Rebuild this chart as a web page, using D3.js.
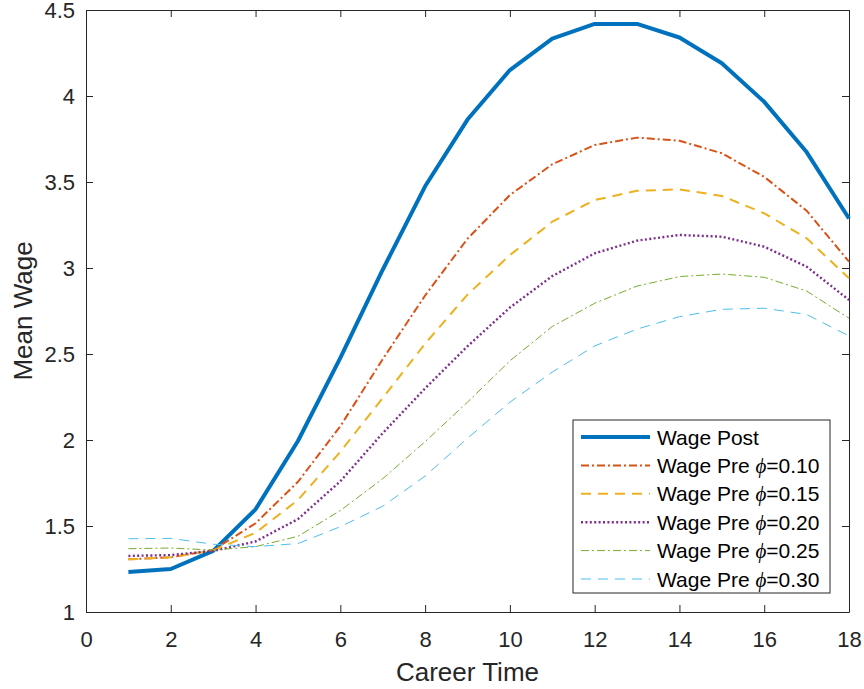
<!DOCTYPE html>
<html>
<head>
<meta charset="utf-8">
<title>Mean wage over career time</title>
<style>
body { margin: 0; background: #fff; }
svg { display: block; font-family: "Liberation Sans", Arial, sans-serif; }
.tick text { fill: #262626; font-size: 22px; }
</style>
<script src="https://d3js.org/d3.v7.min.js"></script>
</head>
<body>
<div id="chart"></div>
<script>
// career time steps
var careerTime = [1,2,3,4,5,6,7,8,9,10,11,12,13,14,15,16,17,18];

var wagePost  = [1.232,1.250,1.355,1.597,1.994,2.477,2.990,3.475,3.863,4.151,4.333,4.419,4.419,4.340,4.190,3.966,3.674,3.288];
var wagePre10 = [1.306,1.318,1.360,1.516,1.757,2.080,2.470,2.840,3.170,3.424,3.603,3.715,3.758,3.740,3.667,3.530,3.333,3.037];
var wagePre15 = [1.306,1.318,1.358,1.461,1.651,1.932,2.244,2.560,2.845,3.075,3.269,3.395,3.449,3.457,3.419,3.318,3.173,2.940];
var wagePre20 = [1.326,1.331,1.355,1.410,1.540,1.760,2.040,2.300,2.545,2.770,2.953,3.085,3.159,3.192,3.182,3.124,3.008,2.814];
var wagePre25 = [1.368,1.372,1.360,1.380,1.440,1.590,1.775,1.990,2.220,2.460,2.660,2.795,2.895,2.950,2.965,2.946,2.866,2.708];
var wagePre30 = [1.426,1.428,1.394,1.380,1.398,1.496,1.615,1.790,2.010,2.220,2.395,2.547,2.645,2.717,2.760,2.766,2.730,2.605];

var seriesNames = ["Wage Post", "Wage Pre ", "Wage Pre ", "Wage Pre ", "Wage Pre ", "Wage Pre "];
var phiValues = [null, "0.10", "0.15", "0.20", "0.25", "0.30"];

var xTicks = [0,2,4,6,8,10,12,14,16,18];
var yTicks = [1,1.5,2,2.5,3,3.5,4,4.5];

var allSeries = [wagePost, wagePre10, wagePre15, wagePre20, wagePre25, wagePre30];
var colors = ["#0072BD", "#D95319", "#EDB120", "#7E2F8E", "#77AC30", "#4DBEEE"];
var widths = [4, 2, 2, 2.4, 1, 1];
var dashes = [null, "8,3,2,3", "10,7", "2,2.4", "8,3,2,3", "10,7"];

var W = 864, H = 689;
var margin = {left: 86, right: 15, top: 10, bottom: 77};

var svg = d3.select("#chart").append("svg").attr("width", W).attr("height", H);

var x = d3.scaleLinear().domain([0, 18]).range([margin.left, W - margin.right]);
var y = d3.scaleLinear().domain([1, 4.5]).range([H - margin.bottom, margin.top]);

var tickLen = 7;

// axes, box on like matlab
var xAxis = svg.append("g").attr("transform", "translate(0," + y(1) + ")")
  .call(d3.axisBottom(x).tickValues(xTicks).tickSizeInner(-tickLen).tickSizeOuter(0).tickPadding(19).tickFormat(d3.format("d")));
svg.append("g").attr("transform", "translate(0," + y(4.5) + ")")
  .call(d3.axisTop(x).tickValues(xTicks).tickSizeInner(-tickLen).tickSizeOuter(0).tickFormat(""));
var yAxis = svg.append("g").attr("transform", "translate(" + x(0) + ",0)")
  .call(d3.axisLeft(y).tickValues(yTicks).tickSizeInner(-tickLen).tickSizeOuter(0).tickPadding(11).tickFormat(function(d){ return d3.format("")(d); }));
svg.append("g").attr("transform", "translate(" + x(18) + ",0)")
  .call(d3.axisRight(y).tickValues(yTicks).tickSizeInner(-tickLen).tickSizeOuter(0).tickFormat(""));

svg.selectAll(".domain").attr("stroke", "#262626");
svg.selectAll(".tick line").attr("stroke", "#262626");
xAxis.selectAll("text").attr("font-family", null);
yAxis.selectAll("text").attr("font-family", null).attr("dy", "0.36em");

// axis labels
svg.append("text").attr("x", (x(0) + x(18)) / 2).attr("y", 681)
  .attr("text-anchor", "middle").attr("font-size", 26).attr("fill", "#262626").text("Career Time");
svg.append("text").attr("transform", "translate(32," + (y(1) + y(4.5)) / 2 + ") rotate(-90)")
  .attr("text-anchor", "middle").attr("font-size", 26).attr("fill", "#262626").text("Mean Wage");

// lines
var line = d3.line().x(function(d, i){ return x(careerTime[i]); }).y(function(d){ return y(d); });

svg.append("g").selectAll("path").data(allSeries).enter().append("path")
  .attr("d", line)
  .attr("fill", "none")
  .attr("stroke", function(d, i){ return colors[i]; })
  .attr("stroke-width", function(d, i){ return widths[i]; })
  .attr("stroke-dasharray", function(d, i){ return dashes[i]; })
  .attr("stroke-linejoin", "round");

// legend
var lg = svg.append("g");
var lx = 573, ly = 420, lw = 257, lh = 173, rowH = 28.4;
lg.append("rect").attr("x", lx).attr("y", ly).attr("width", lw).attr("height", lh)
  .attr("fill", "#fff").attr("stroke", "#262626").attr("stroke-width", 1);

var rows = lg.selectAll("g.row").data(allSeries).enter().append("g")
  .attr("transform", function(d, i){ return "translate(0," + (ly + 17 + i * rowH) + ")"; });

rows.append("line").attr("x1", lx + 8).attr("x2", lx + 77).attr("y1", 0).attr("y2", 0)
  .attr("stroke", function(d, i){ return colors[i]; })
  .attr("stroke-width", function(d, i){ return widths[i]; })
  .attr("stroke-dasharray", function(d, i){ return dashes[i]; });

var lt = rows.append("text").attr("x", lx + 84).attr("y", 0).attr("dy", "0.36em")
  .attr("font-size", 21).attr("fill", "#000");
lt.append("tspan").text(function(d, i){ return seriesNames[i]; });
lt.each(function(d){
  var idx = allSeries.indexOf(d);
  if (phiValues[idx] === null) return;
  var t = d3.select(this);
  t.append("tspan").attr("font-family", "'Liberation Serif', 'DejaVu Serif', serif").attr("font-style", "italic").text("\u03D5");
  t.append("tspan").text("=" + phiValues[idx]);
});
</script>
</body>
</html>
